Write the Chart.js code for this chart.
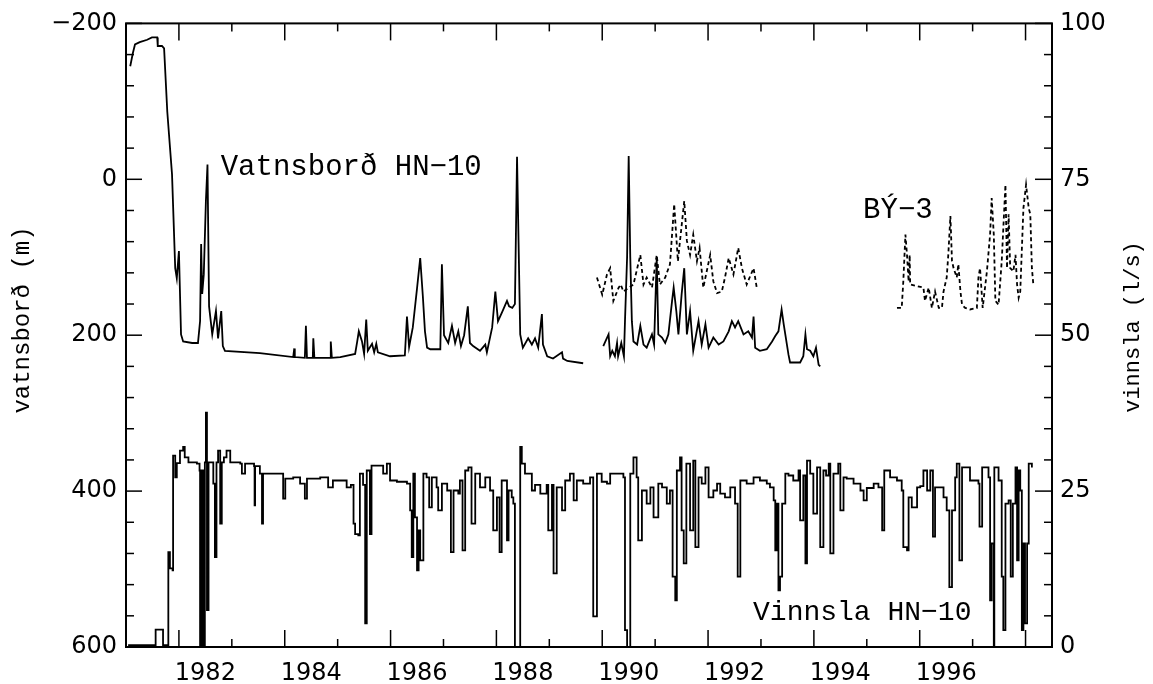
<!DOCTYPE html>
<html>
<head>
<meta charset="utf-8">
<script src="https://cdn.jsdelivr.net/npm/chart.js@4.4.1/dist/chart.umd.min.js"></script>
<style>
  html, body { margin: 0; padding: 0; background: #fff; }
  #wrap { width: 1153px; height: 684px; }
</style>
</head>
<body>
<div id="wrap"><canvas id="c" width="1153" height="684"></canvas></div>
<script>
// ---------- DATA ----------
// X: decimal years
const xLabelYears = [1982, 1984, 1986, 1988, 1990, 1992, 1994, 1996];
const leftTicks = [-200, 0, 200, 400, 600];
const rightTicks = [0, 25, 50, 75, 100];

// Vatnsborð HN-10 (m, left axis, reversed) — first period
const levelYearsA = [1981.08,1981.13,1981.17,1981.26,1981.40,1981.49,1981.59,1981.60,1981.68,1981.72,
  1981.78,1981.87,1981.93,1981.96,1982.00,1982.04,1982.08,1982.25,1982.36,1982.40,
  1982.42,1982.44,1982.47,1982.51,1982.54,1982.57,1982.63,1982.70,1982.74,1982.80,
  1982.83,1982.87,1983.53,1984.16,1984.18,1984.19,1984.38,1984.40,1984.42,1984.53,
  1984.54,1984.56,1984.86,1984.87,1984.89,1985.05,1985.33,1985.37,1985.40,1985.46,
  1985.50,1985.54,1985.57,1985.65,1985.69,1985.73,1985.76,1985.99,1986.27,1986.31,
  1986.35,1986.42,1986.50,1986.56,1986.61,1986.65,1986.69,1986.75,1986.94,1986.97,
  1987.01,1987.09,1987.16,1987.22,1987.28,1987.33,1987.39,1987.46,1987.50,1987.56,
  1987.69,1987.79,1987.82,1987.92,1987.98,1988.03,1988.11,1988.20,1988.24,1988.30,
  1988.35,1988.39,1988.45,1988.50,1988.60,1988.67,1988.73,1988.79,1988.86,1988.88,
  1988.96,1989.07,1989.24,1989.26,1989.34,1989.64];
const levelA = [-145,-162,-173,-176,-179,-182,-182,-171,-171,-168,
  -87,-6,114,127,92,199,208,210,210,182,
  83,147,122,28,-19,163,199,169,204,169,
  214,220,223,228,217,228,229,188,229,229,
  204,229,229,208,229,228,224,208,195,208,
  224,180,220,211,222,211,222,227,226,176,
  215,190,140,101,150,195,216,218,218,109,
  200,210,188,210,195,214,200,163,210,214,
  220,212,222,190,144,182,170,156,163,165,
  160,-29,199,216,204,212,204,216,173,212,
  227,230,222,230,233,236];

// Vatnsborð HN-10 — second period
const levelYearsB = [1990.02,1990.06,1990.12,1990.15,1990.19,1990.24,1990.28,1990.30,1990.36,1990.41,
  1990.43,1990.47,1990.50,1990.53,1990.56,1990.59,1990.66,1990.72,1990.78,1990.84,
  1990.94,1990.98,1991.03,1991.06,1991.13,1991.19,1991.25,1991.32,1991.35,1991.40,
  1991.44,1991.50,1991.55,1991.60,1991.66,1991.72,1991.82,1991.88,1991.95,
  1992.01,1992.10,1992.20,1992.29,1992.39,1992.45,1992.51,1992.57,1992.67,1992.76,1992.83,1992.86,1992.89,1992.98,
  1993.11,1993.21,1993.27,1993.33,1993.39,1993.43,1993.52,1993.55,1993.74,1993.80,1993.84,1993.87,1993.93,1993.99,
  1994.04,1994.09,1994.12];
const levelB = [214,208,199,227,220,227,210,227,210,227,
  182,100,-30,100,182,208,212,188,212,216,
  199,212,101,199,203,210,199,156,139,169,
  199,148,114,199,169,220,182,212,186,
  216,203,212,208,195,182,190,182,199,195,203,176,216,220,
  218,208,201,195,167,186,225,235,235,227,199,218,220,227,
  216,238,240];

// BÝ-3 (m, left axis) — two periods
const by3YearsA = [1989.90,1990.00,1990.09,1990.15,1990.21,1990.31,1990.35,1990.40,1990.59,1990.72,
  1990.78,1990.84,1990.94,1991.03,1991.09,1991.19,1991.28,1991.36,1991.43,1991.47,
  1991.55,1991.60,1991.66,1991.72,1991.79,1991.84,1991.91,1992.04,1992.10,1992.17,
  1992.26,1992.32,1992.39,1992.48,1992.57,1992.64,1992.73,1992.86,1992.92];
const by3A = [126,148,122,114,156,139,135,144,135,97,
  135,126,139,97,135,126,109,32,105,79,
  28,79,97,71,105,88,139,97,131,146,
  144,126,101,122,88,114,135,114,139];
const by3YearsB = [1995.57,1995.66,1995.69,1995.73,1995.76,1995.79,1995.81,1995.82,1996.07,1996.10,
  1996.17,1996.23,1996.29,1996.36,1996.42,1996.45,1996.51,1996.54,1996.58,1996.61,
  1996.64,1996.70,1996.73,1996.77,1996.80,1996.86,1996.95,1997.08,1997.11,1997.14,
  1997.19,1997.27,1997.33,1997.36,1997.40,1997.43,1997.49,1997.55,1997.62,1997.65,
  1997.68,1997.71,1997.77,1997.81,1997.84,1997.87,1997.90,1997.96,1998.01,1998.06,
  1998.09,1998.12,1998.15];
const by3B = [165,165,131,71,97,131,97,135,139,156,
  139,165,144,165,165,144,126,97,47,105,
  114,126,109,144,161,165,167,165,126,114,
  165,118,71,24,71,156,161,105,7,114,
  45,114,118,97,135,152,144,37,7,37,
  45,114,137];

// Vinnsla HN-10 (l/s, right axis)
const vinnslaYearsA = [1981.04,1981.55,1981.56,1981.69,1981.70,1981.77,1981.80,1981.83,1981.88,1981.89,
  1981.93,1981.96,1982.02,1982.08,1982.11,1982.18,1982.34,1982.39,1982.40,1982.43,
  1982.46,1982.49,1982.51,1982.53,1982.56,1982.65,1982.68,1982.71,1982.74,1982.78,
  1982.81,1982.85,1982.90,1982.97,1983.16,1983.19,1983.25,1983.42,1983.43,1983.44,
  1983.53,1983.57,1983.59,1983.85,1983.97,1984.01,1984.16,1984.29,1984.38,1984.42,
  1984.67,1984.82,1984.91,1985.17,1985.25,1985.30,1985.33,1985.39,1985.42,1985.48,
  1985.52,1985.55,1985.61,1985.64,1985.86,1985.93,1985.99,1986.12,1986.31,1986.37];
const vinnslaA = [0.3,0.3,2.8,2.8,0.3,0.3,15.2,12.6,12.3,30.7,
  27.2,29.5,31.5,32.1,30.4,29.6,29.4,28.3,0,28.3,
  0,29.6,37.6,5.9,29.6,26.2,14.4,29.6,31.5,19.8,
  29.6,30.4,31.5,29.6,29.4,27.8,29.4,29,22.7,29,
  27.8,19.8,27.8,27.8,23.8,27,27.2,26.2,23.8,27,
  27.2,25.6,26.7,25.6,26,19.8,18.1,17.9,27.8,26,
  3.8,28.3,18.1,29.1,27.8,29.4,26.7,26.5,26.2,21.9];
const vinnslaYearsB = [1986.40,1986.43,1986.46,1986.50,1986.53,1986.56,1986.62,1986.68,1986.73,1986.78,
  1986.87,1986.90,1986.97,1987.07,1987.14,1987.19,1987.28,1987.31,1987.36,1987.41,
  1987.47,1987.53,1987.60,1987.69,1987.79,1987.88,1987.94,1988.01,1988.06,1988.10,
  1988.20,1988.23,1988.29,1988.32,1988.35,1988.42,1988.45,1988.48,1988.54,1988.67,
  1988.73,1988.83,1988.95,1988.98,1989.05,1989.08,1989.14,1989.24,1989.30,1989.39,
  1989.46,1989.52,1989.64,1989.77,1989.83,1989.90,1989.99,1990.09,1990.15,1990.40,
  1990.43,1990.47,1990.50,1990.53,1990.59,1990.65,1990.68,1990.75,1990.84,1990.91,
  1990.97,1991.06,1991.13,1991.22,1991.28,1991.33,1991.38,1991.41,1991.47,1991.50,
  1991.54,1991.59,1991.66,1991.72,1991.76,1991.82,1991.88,1991.95,1992.01,1992.10];
const vinnslaB = [14.4,27.8,20.8,12.3,18.7,13.9,27.8,27.2,22.4,27.2,
  25.6,21.9,26.2,25.1,15.2,25.1,24.6,26.7,15.5,28.3,
  28.8,19.8,27.8,25.6,27.2,25.1,18.7,24.0,15.2,26.7,
  17.1,25.1,24.0,23,0,0,32.1,29.4,27.8,25.1,
  26,24.6,26,18.7,26,11.8,25.6,21.9,26.7,27.8,
  23.5,26.7,26.2,27.2,4.9,27.8,26.5,26.2,27.8,27.2,
  2.7,0,0,27.8,30.4,27.2,17.1,25.1,23,25.6,
  20.8,26.2,25.6,23,25.1,11.3,7.5,28.3,30.4,18.7,
  13.4,29.4,18.7,29.9,16,27.2,26.2,28.8,24,25.1];
const vinnslaYearsC = [1992.17,1992.23,1992.32,1992.42,1992.51,1992.56,1992.61,1992.73,1992.86,1992.98,
  1993.11,1993.17,1993.24,1993.27,1993.30,1993.33,1993.36,1993.40,1993.46,1993.52,
  1993.61,1993.71,1993.74,1993.80,1993.84,1993.87,1993.93,1993.99,1994.06,1994.12,
  1994.18,1994.23,1994.28,1994.31,1994.37,1994.46,1994.50,1994.56,1994.62,1994.75,
  1994.88,1994.94,1995.00,1995.13,1995.22,1995.29,1995.33,1995.44,1995.57,1995.66,
  1995.69,1995.76,1995.79,1995.85,1995.95,1996.01,1996.07,1996.14,1996.20,1996.25,
  1996.29,1996.39,1996.45,1996.51,1996.56,1996.61,1996.67,1996.70,1996.75,1996.80,
  1996.95,1997.11,1997.13,1997.18,1997.30,1997.33,1997.36,1997.40,1997.41,1997.49,
  1997.55,1997.58,1997.62,1997.68,1997.72,1997.76,1997.81,1997.84,1997.87,1997.90,
  1997.93,1997.96,1997.99,1998.03,1998.06,1998.12];
const vinnslaC = [26.2,24.6,24.0,25.6,23,11.3,26.7,26.2,27.2,26.7,
  26.2,25.6,23.5,15.5,23,9.1,11.3,23,27.8,27.5,
  26.7,28.3,20.3,27.5,13.4,29.9,27.8,21.4,28.8,16,
  28.3,27.5,29.4,15,27.8,29.4,21.9,27.2,27,26.2,
  25.1,23.5,25.5,26.2,25.6,18.7,28.3,27.2,26.7,25.1,
  16,15.5,24.0,22.4,25.6,25.8,28.3,25.1,28.3,17.7,
  25.6,25.6,24.0,21.9,9.6,21.9,27.2,29.4,13.9,28.8,
  26.7,26.2,19.3,28.8,27.2,7.5,16.6,0,28.8,26.7,
  11.3,2.7,23,23.5,11.3,23,28.8,13.9,28.3,25.1,
  2.7,16.6,3.8,16.6,29.4,28.8];

// ---------- BUILD ----------
function pts(xs, ys) { return xs.map((x, i) => ({ x: x, y: ys[i] })); }
const vinnslaYears = vinnslaYearsA.concat(vinnslaYearsB, vinnslaYearsC);
const vinnsla = vinnslaA.concat(vinnslaB, vinnslaC);

const lineBase = { borderColor: '#000', borderWidth: 1.8, pointRadius: 0, tension: 0, fill: false };

const decorPlugin = {
  id: 'decor',
  afterDraw(chart) {
    const { ctx, chartArea: a, scales } = chart;
    const sx = scales.x, sy = scales.y, sy2 = scales.y2;
    ctx.save();
    ctx.strokeStyle = '#000';
    ctx.fillStyle = '#000';
    ctx.lineWidth = 2;
    ctx.strokeRect(a.left, a.top, a.right - a.left, a.bottom - a.top);
    ctx.lineWidth = 1.5;
    const seg = (x1, y1, x2, y2) => { ctx.beginPath(); ctx.moveTo(x1, y1); ctx.lineTo(x2, y2); ctx.stroke(); };
    // year ticks (inward, top and bottom)
    for (let yr = Math.ceil(sx.min); yr <= Math.floor(sx.max); yr++) {
      const px = sx.getPixelForValue(yr);
      const len = yr % 2 === 0 ? 17 : 8;
      seg(px, a.bottom, px, a.bottom - len);
      seg(px, a.top, px, a.top + len);
    }
    // left ticks
    for (let v = sy.min; v <= sy.max; v += 40) {
      const py = sy.getPixelForValue(v);
      seg(a.left, py, a.left + (v % 200 === 0 ? 16 : 8), py);
    }
    // right ticks
    for (let v = sy2.min; v <= sy2.max; v += 5) {
      const py = sy2.getPixelForValue(v);
      seg(a.right, py, a.right - (v % 25 === 0 ? 17 : 8), py);
    }
    // series labels
    ctx.textAlign = 'left';
    ctx.textBaseline = 'alphabetic';
    ctx.font = '29px "Liberation Mono", monospace';
    ctx.fillText('Vatnsborð HN\u221210', sx.getPixelForValue(1982.79), sy.getPixelForValue(-5));
    ctx.fillText('BÝ\u22123', sx.getPixelForValue(1994.93), sy.getPixelForValue(50));
    ctx.font = '28px "Liberation Mono", monospace';
    ctx.fillText('Vinnsla HN\u221210', sx.getPixelForValue(1992.85), sy2.getPixelForValue(4.3));
    // axis titles
    ctx.textAlign = 'center';
    ctx.textBaseline = 'middle';
    ctx.save();
    ctx.translate(23, 320);
    ctx.rotate(-Math.PI / 2);
    ctx.font = '24px "Liberation Mono", monospace';
    ctx.fillText('vatnsborð (m)', 0, 0);
    ctx.restore();
    ctx.save();
    ctx.translate(1133, 327);
    ctx.rotate(-Math.PI / 2);
    ctx.font = '22px "Liberation Mono", monospace';
    ctx.fillText('vinnsla (l/s)', 0, 0);
    ctx.restore();
    ctx.restore();
  }
};

const tickFont = { family: '"DejaVu Sans", sans-serif', size: 24 };

new Chart(document.getElementById('c'), {
  type: 'line',
  data: {
    datasets: [
      Object.assign({ label: 'Vatnsborð HN-10', data: pts(levelYearsA, levelA), yAxisID: 'y' }, lineBase),
      Object.assign({ label: 'Vatnsborð HN-10 b', data: pts(levelYearsB, levelB), yAxisID: 'y' }, lineBase),
      Object.assign({ label: 'BÝ-3', data: pts(by3YearsA, by3A), yAxisID: 'y', borderDash: [4, 3] }, lineBase),
      Object.assign({ label: 'BÝ-3 b', data: pts(by3YearsB, by3B), yAxisID: 'y', borderDash: [4, 3] }, lineBase),
      Object.assign({ label: 'Vinnsla HN-10', data: pts(vinnslaYears, vinnsla), yAxisID: 'y2', stepped: 'before' }, lineBase)
    ]
  },
  options: {
    responsive: false,
    animation: false,
    devicePixelRatio: 1,
    layout: { padding: { top: 22, left: 0, right: 0, bottom: 0 } },
    plugins: { legend: { display: false }, tooltip: { enabled: false } },
    scales: {
      x: {
        type: 'linear', min: 1981, max: 1998.5,
        grid: { display: false, drawTicks: false }, border: { display: false },
        afterBuildTicks: (s) => { s.ticks = xLabelYears.map(v => ({ value: v + 0.5 })); },
        afterFit: (s) => { s.height = 37; },
        ticks: { autoSkip: false, maxRotation: 0, color: '#000', font: tickFont, padding: 12,
          callback: (v) => String(Math.floor(v)) }
      },
      y: {
        type: 'linear', position: 'left', min: -200, max: 600, reverse: true,
        grid: { display: false, drawTicks: false }, border: { display: false },
        afterBuildTicks: (s) => { s.ticks = leftTicks.map(v => ({ value: v })); },
        afterFit: (s) => { s.width = 126; },
        ticks: { color: '#000', font: tickFont, padding: 9,
          callback: (v) => (v < 0 ? '\u2212' + Math.abs(v) : String(v)) }
      },
      y2: {
        type: 'linear', position: 'right', min: 0, max: 100,
        grid: { display: false, drawTicks: false }, border: { display: false },
        afterBuildTicks: (s) => { s.ticks = rightTicks.map(v => ({ value: v })); },
        afterFit: (s) => { s.width = 101; },
        ticks: { color: '#000', font: tickFont, padding: 8, callback: (v) => String(v) }
      }
    }
  },
  plugins: [decorPlugin]
});
</script>
</body>
</html>
